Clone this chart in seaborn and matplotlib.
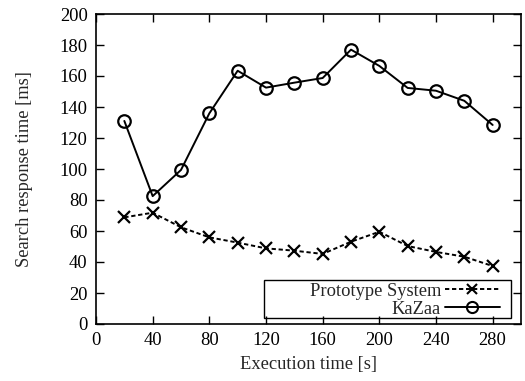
import matplotlib
matplotlib.use('Agg')
import matplotlib.pyplot as plt
import seaborn as sns
import pandas as pd
from matplotlib.patches import Rectangle
from matplotlib.lines import Line2D

# data
times = [20, 40, 60, 80, 100, 120, 140, 160, 180, 200, 220, 240, 260, 280]
prototype = [68.8, 71.8, 62.4, 55.9, 52.5, 48.8, 47.3, 45.2, 53.1, 59.5, 50.3, 46.5, 43.4, 37.4]
kazaa = [131, 82.5, 99.4, 135.9, 163.4, 152.5, 155.7, 158.7, 177, 166.5, 152.3, 150.5, 144, 128.4]
x_ticks = [0, 40, 80, 120, 160, 200, 240, 280]
y_ticks = [0, 20, 40, 60, 80, 100, 120, 140, 160, 180, 200]

FS = 13.3


def main():
  sns.set_style('ticks')
  plt.rcParams['font.family'] = ['Liberation Serif', 'DejaVu Serif']
  plt.rcParams['font.size'] = FS

  fig = plt.figure(figsize=(5.25, 3.81), dpi=100)
  ax = fig.add_axes([96 / 525, 57 / 381, 425 / 525, 310 / 381])

  df_p = pd.DataFrame({'t': times, 'v': prototype})
  df_k = pd.DataFrame({'t': times, 'v': kazaa})

  sns.lineplot(data=df_p, x='t', y='v', ax=ax, color='black', lw=1.4,
               marker='x', markersize=8, mew=1.6, mec='black')
  ax.lines[-1].set_dashes([2.2, 1.4])
  sns.lineplot(data=df_k, x='t', y='v', ax=ax, color='black', lw=1.4,
               marker='o', markersize=9, mew=1.6, mfc='none', mec='black')

  ax.set_xlim(0, 300)
  ax.set_ylim(0, 200)
  ax.set_xticks(x_ticks)
  ax.set_yticks(y_ticks)
  ax.tick_params(direction='in', length=6, width=1, top=True, right=True,
                 labelsize=FS, colors='black', pad=6)
  for s in ax.spines.values():
    s.set_visible(True)
    s.set_linewidth(1.2)
    s.set_color('black')
  ax.set_xlabel('Execution time [s]', fontsize=FS, labelpad=5)
  ax.set_ylabel('Search response time [ms]', fontsize=FS, labelpad=19)

  # key box like gnuplot
  ax.add_patch(Rectangle((0.395, 0.019), 0.581, 0.123, transform=ax.transAxes,
                         fill=False, ec='black', lw=1.0, zorder=5))
  h_p = Line2D([], [], color='black', lw=1.4, marker='x', markersize=7, mew=1.5,
               dashes=[2.2, 1.4])
  h_k = Line2D([], [], color='black', lw=1.4, marker='o', markersize=8, mew=1.5,
               mfc='none')
  ax.legend([h_p, h_k], ['Prototype System', 'KaZaa'], loc='lower right',
            bbox_to_anchor=(0.955, 0.015), frameon=False, markerfirst=False,
            handlelength=3.0, handletextpad=0.2, labelspacing=0.05,
            borderpad=0.1, borderaxespad=0, fontsize=FS)

  fig.savefig('out.png', dpi=100)


if __name__ == '__main__':
  main()
